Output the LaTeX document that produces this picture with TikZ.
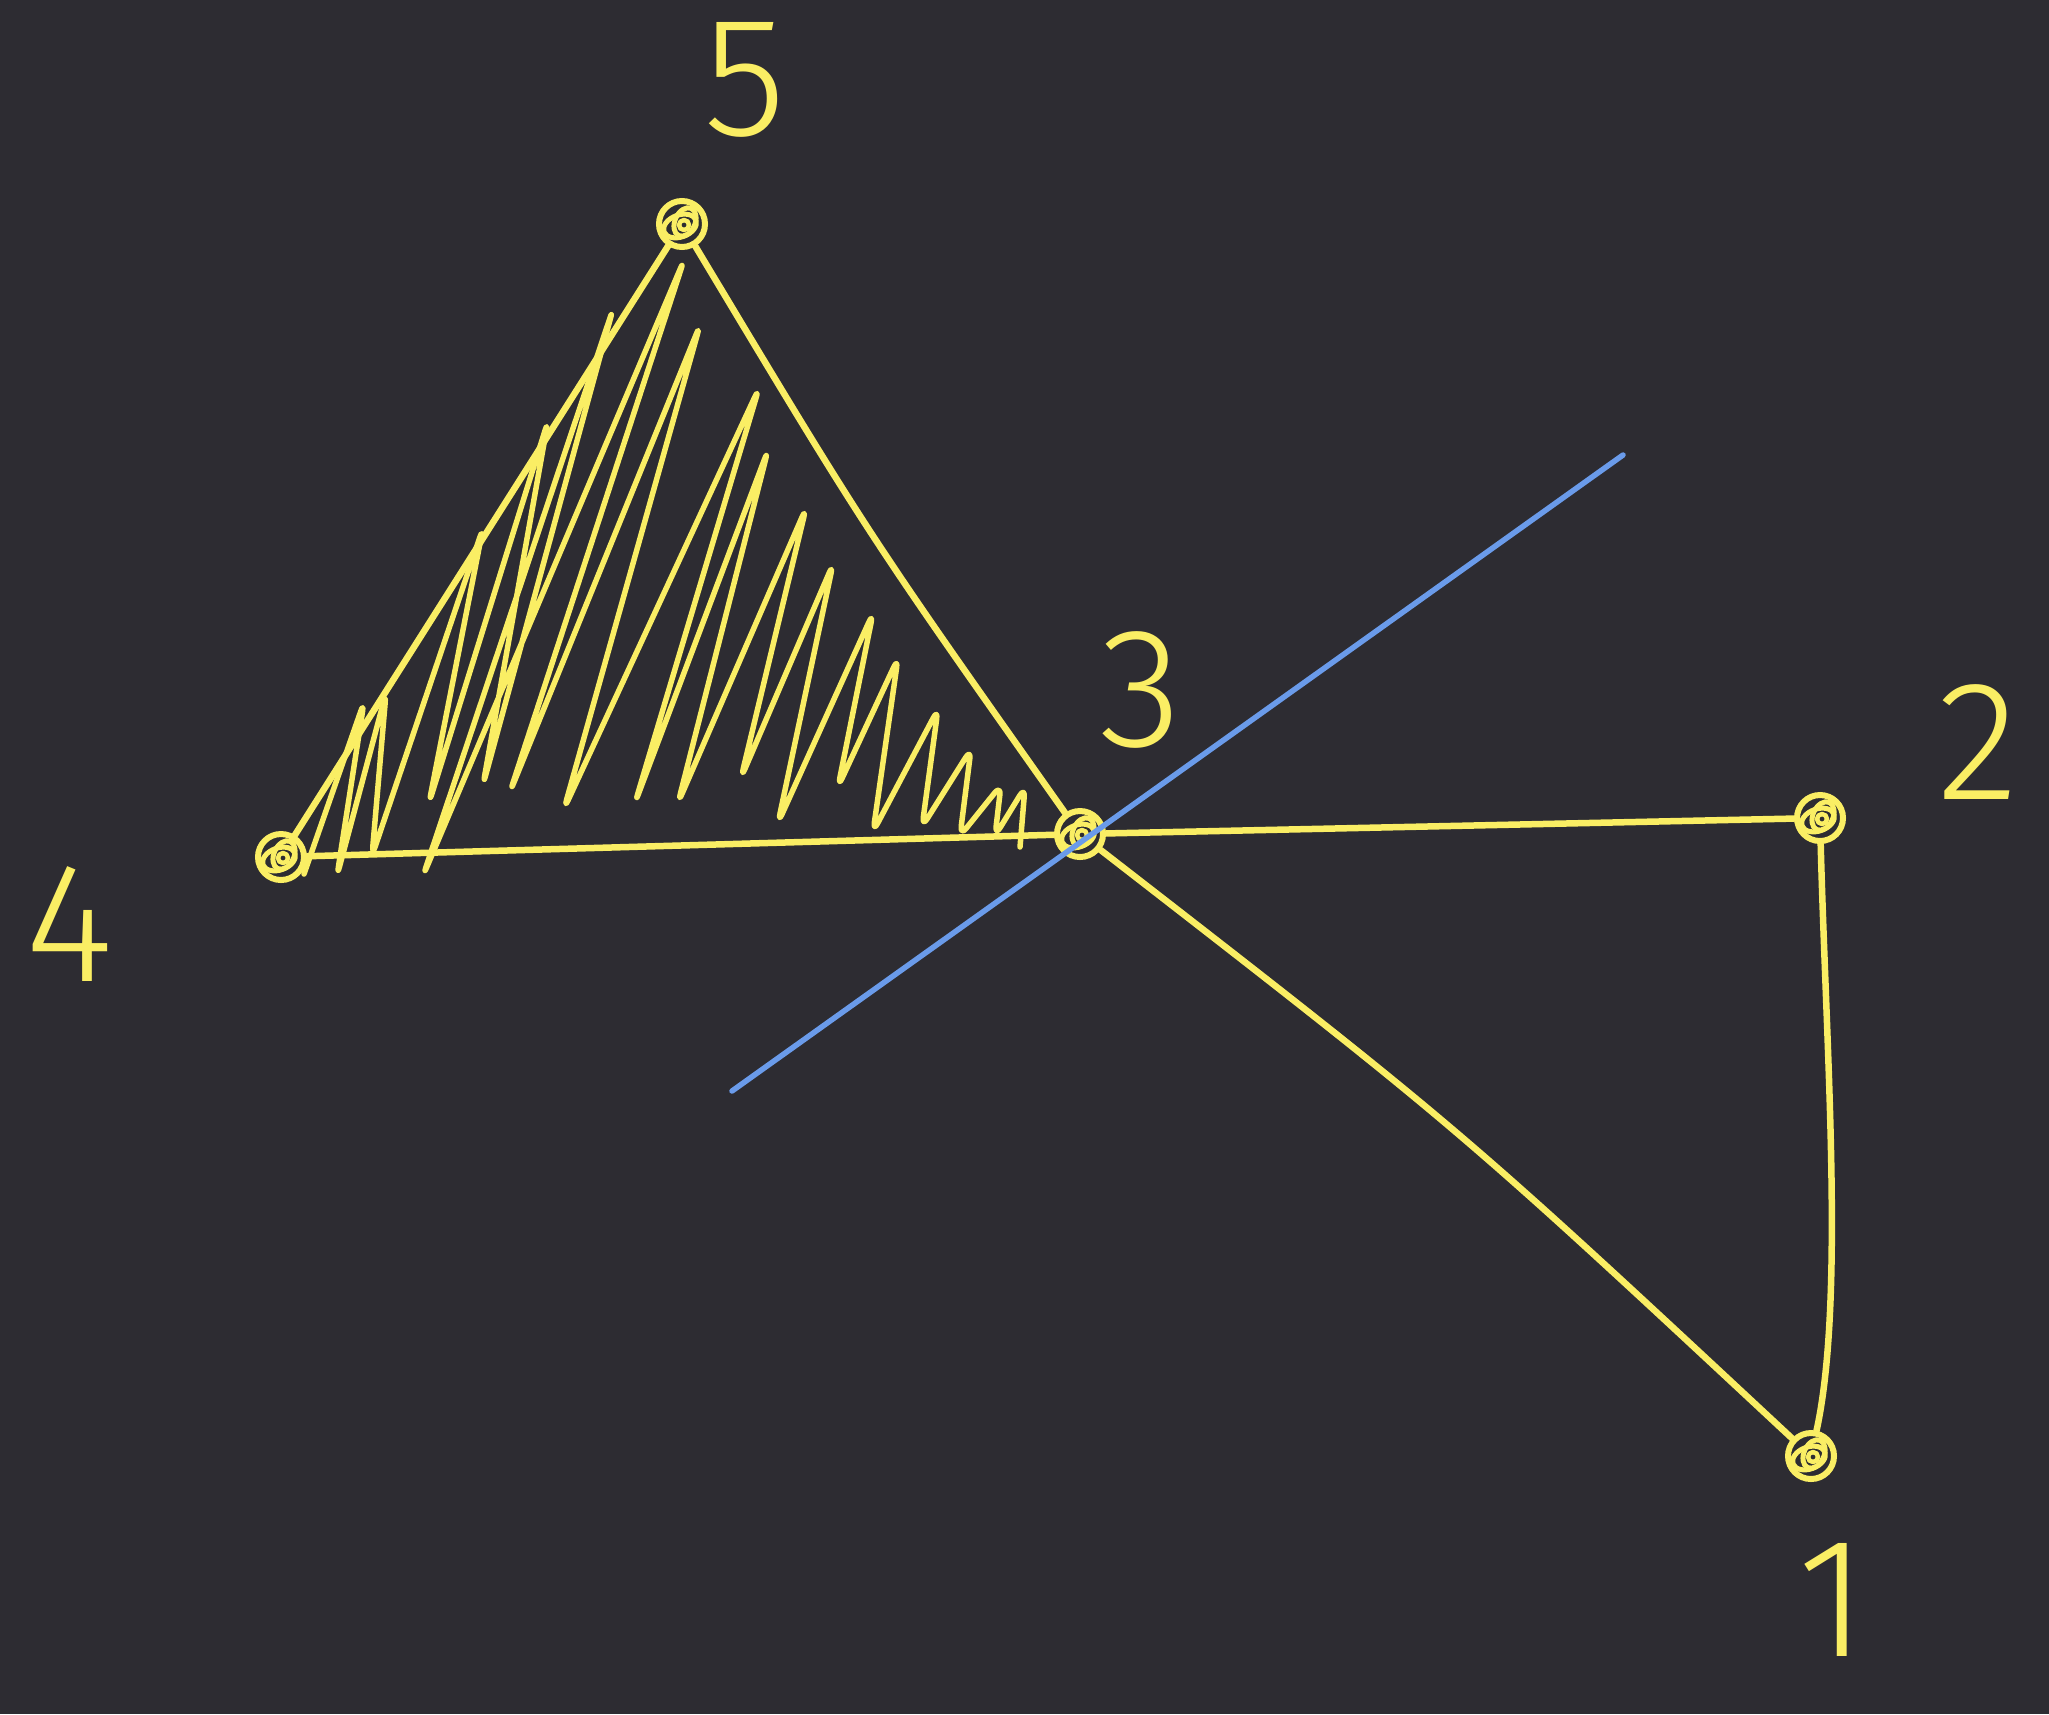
\documentclass[tikz,border=0pt]{standalone}
\usepackage{fontspec}
\newfontfamily\lbl{Fira Sans}[UprightFont={* Light}]
\definecolor{board}{HTML}{2D2C32}
\definecolor{chalkY}{HTML}{FAEE64}
\definecolor{chalkB}{HTML}{6A9BEA}
\begin{document}
\begin{tikzpicture}[x=1pt,y=-1pt,
  yel/.style={draw=chalkY,line width=6.5pt,line cap=round,line join=round},
  vtx/.style={circle,draw=chalkY,line width=6pt,minimum size=46pt,inner sep=0pt},
  lab/.style={text=chalkY,font=\lbl\fontsize{170}{170}\selectfont,inner sep=0pt}]
\fill[board] (0,0) rectangle (2049,1714);
\useasboundingbox (0,0) rectangle (2049,1714);

% vertices
\node[vtx] (v5) at (682,224) {};
\node[vtx] (v4) at (281,857) {};
\node[vtx] (v3) at (1080,834) {};
\node[vtx] (v2) at (1820,818) {};
\node[vtx] (v1) at (1811,1456) {};

% inner scribbles of the vertices
\foreach \v in {v1,v2,v3,v4,v5}{
  \draw[yel,line width=5pt] ([shift={(-2,2)}]\v.center) ellipse [x radius=17,y radius=11,rotate=20];
  \draw[yel,line width=5pt] ([shift={(3,-2)}]\v.center) ellipse [x radius=10,y radius=15,rotate=-25];
  \draw[yel,line width=4.5pt] ([shift={(2,1)}]\v.center) circle (5);
}

% edges
\draw[yel] (v4) -- (v5);
\draw[yel] (v5) .. controls (868,534) .. (v3);
\draw[yel] (v4) -- (v3);
\draw[yel] (v3) -- (v2);
\draw[yel] (v3) .. controls (1459,1128) .. (v1);
\draw[yel] (v2) .. controls (1826,1050) and (1845,1300) .. (v1);

% hatching of the triangle
\draw[yel,line width=5.5pt,rounded corners=10pt]
  (304,874) -- (364,702) -- (337,876) -- (386,693) -- (372,856) -- (483,528)
  -- (429,803) -- (548,421) -- (483,785) -- (613,309) -- (423,876) -- (684,260)
  -- (510,792) -- (700,325) -- (564,809) -- (759,388) -- (635,803) -- (768,450)
  -- (678,803) -- (806,508) -- (741,778) -- (833,564) -- (778,823) -- (873,613)
  -- (838,787) -- (898,658) -- (873,832) -- (938,709) -- (922,827) -- (971,749)
  -- (960,836) -- (1001,785) -- (995,836) -- (1025,787) -- (1020,847);

% blue line
\coordinate (b1) at (732,1091);
\coordinate (b2) at (1623,455);
\draw[chalkB,line width=5.5pt,line cap=round] (b1) -- (b2);

% labels
\node[lab] (l5) at (745,80) {5};
\node[lab] (l3) at (1141,690) {3};
\node[lab] (l2) at (1978,742) {2};
\node[lab] (l4) at (70,924) {4};
\node[lab] (l1) at (1833,1600) {1};
\end{tikzpicture}
\end{document}
